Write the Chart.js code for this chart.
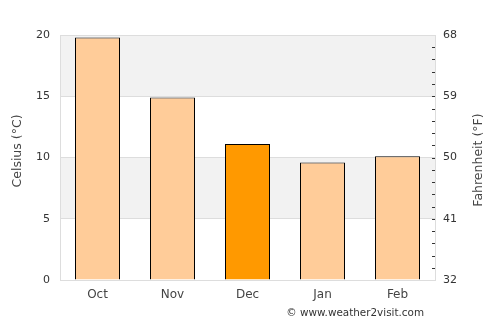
<!DOCTYPE html>
<html><head><meta charset="utf-8">
<script src="https://cdn.jsdelivr.net/npm/chart.js@4/dist/chart.umd.min.js"></script>
<style>html,body{margin:0;padding:0;background:#fff}#wrap{width:500px;height:325px}</style>
</head><body><div id="wrap"><canvas id="c" width="500" height="325"></canvas></div>
<script>
const categories = ["Oct", "Nov", "Dec", "Jan", "Feb"];
const celsiusValues = [19.8, 14.9, 11.1, 9.6, 10.1];
const barColors = ["#ffcc99", "#ffcc99", "#ff9900", "#ffcc99", "#ffcc99"];
const celsiusTicks = [0, 5, 10, 15, 20];
const fahrenheitTicks = [32, 41, 50, 59, 68];
const shadedBands = [[15, 20], [5, 10]];
const leftTitle = "Celsius (°C)";
const rightTitle = "Fahrenheit (°F)";
const credit = "© www.weather2visit.com";

const FONT = "'DejaVu Sans', sans-serif";
const bandPlugin = {
  id: 'bands',
  beforeDraw(chart) {
    const {ctx, chartArea, scales} = chart;
    const y = scales.y;
    ctx.save();
    ctx.fillStyle = '#f2f2f2';
    shadedBands.forEach(([a, b]) => {
      const y1 = y.getPixelForValue(b), y2 = y.getPixelForValue(a);
      ctx.fillRect(chartArea.left, y1, chartArea.right - chartArea.left, y2 - y1);
    });
    ctx.restore();
  },
  afterDraw(chart) {
    const {ctx, chartArea, scales} = chart;
    const y = scales.y;
    ctx.save();
    ctx.strokeStyle = '#333';
    ctx.lineWidth = 1;
    for (let c = 1; c < 20; c++) {
      const py = Math.round(y.getPixelForValue(c)) + 0.5;
      ctx.beginPath();
      ctx.moveTo(chartArea.right - 3, py);
      ctx.lineTo(chartArea.right, py);
      ctx.stroke();
    }
    ctx.fillStyle = '#444';
    ctx.font = "12.5px " + FONT;
    ctx.textAlign = 'center';
    ctx.textBaseline = 'middle';
    ctx.save();
    ctx.translate(18, 151);
    ctx.rotate(-Math.PI / 2);
    ctx.fillText(leftTitle, 0, 0);
    ctx.restore();
    ctx.save();
    ctx.translate(479, 160);
    ctx.rotate(-Math.PI / 2);
    ctx.fillText(rightTitle, 0, 0);
    ctx.restore();
    ctx.fillStyle = '#333';
    ctx.font = "10.4px " + FONT;
    ctx.textAlign = 'right';
    ctx.fillText(credit, 424, 313);
    ctx.restore();
  }
};

new Chart(document.getElementById('c'), {
  type: 'bar',
  data: {
    labels: categories,
    datasets: [{
      data: celsiusValues,
      backgroundColor: barColors,
      borderColor: '#000',
      borderWidth: 1,
      categoryPercentage: 0.6,
      barPercentage: 1.0,
      yAxisID: 'y'
    }]
  },
  options: {
    responsive: false,
    animation: false,
    layout: {padding: {top: 35, left: 0, right: 0, bottom: 0}},
    plugins: {
      legend: {display: false},
      tooltip: {enabled: false},
      title: {display: false}
    },
    scales: {
      x: {
        grid: {display: false, drawTicks: false},
        border: {display: false},
        ticks: {color: '#444', font: {family: FONT, size: 12}, padding: 8},
        afterFit(s) { s.height = 45; }
      },
      y: {
        position: 'left',
        min: 0, max: 20,
        afterBuildTicks(s) { s.ticks = celsiusTicks.map(v => ({value: v})); },
        grid: {color: '#dddddd', drawTicks: false, lineWidth: 1},
        border: {display: true, color: '#dddddd'},
        ticks: {color: '#333', font: {family: FONT, size: 11}, padding: 10},
        afterFit(s) { s.width = 60; }
      },
      y2: {
        position: 'right',
        min: 32, max: 68,
        afterBuildTicks(s) { s.ticks = fahrenheitTicks.map(v => ({value: v})); },
        grid: {display: true, drawOnChartArea: false, drawTicks: false},
        border: {display: true, color: '#dddddd'},
        ticks: {color: '#333', font: {family: FONT, size: 11}, padding: 8},
        afterFit(s) { s.width = 65; }
      }
    }
  },
  plugins: [bandPlugin]
});
</script></body></html>
